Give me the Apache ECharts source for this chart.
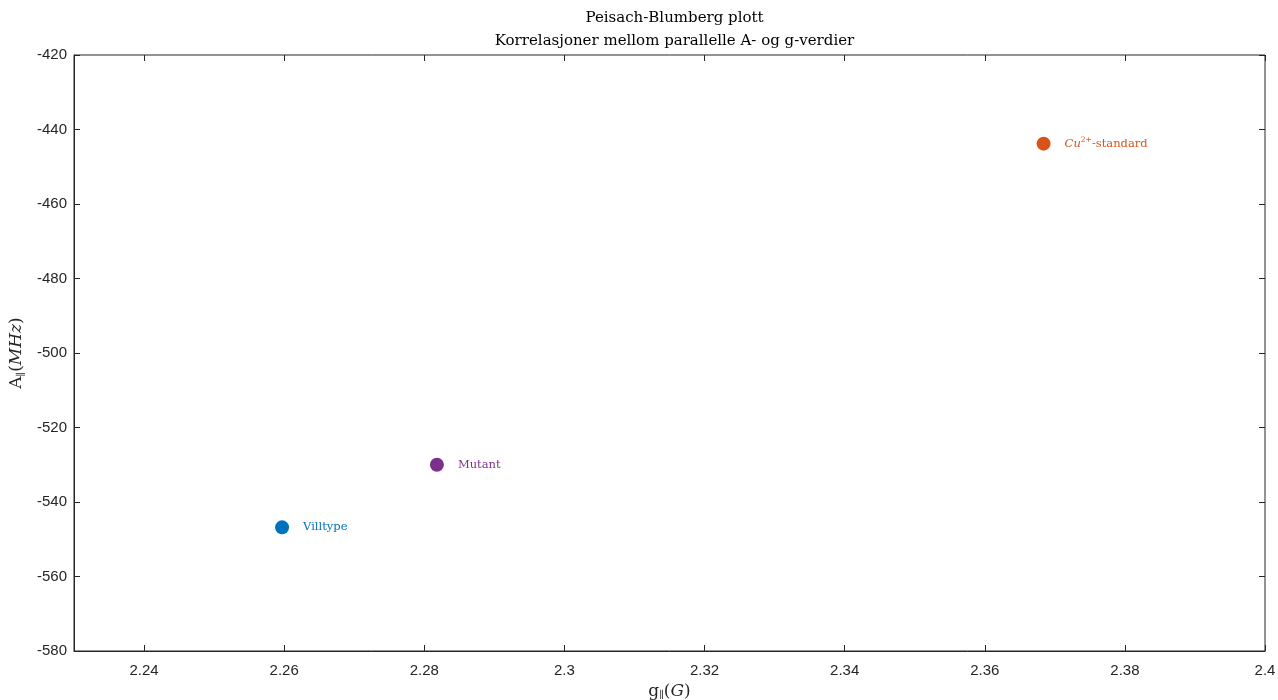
<!DOCTYPE html>
<html>
<head>
<meta charset="utf-8">
<script src="https://cdn.jsdelivr.net/npm/echarts@6/dist/echarts.min.js"></script>
<style>
  html, body { margin: 0; padding: 0; background: #fff; }
  #chart { width: 1278px; height: 700px; }
</style>
</head>
<body>
<div id="chart"></div>
<script>
// Samples: g-parallel and A-parallel (MHz)
const sampleNames = ['Villtype', 'Mutant', 'Cu-standard'];
const gValues = [2.2597, 2.2818, 2.3684];
const aValues = [-546.8, -530.0, -443.8];
const sampleColors = ['#0072BD', '#7E2F8E', '#D95319'];

const xTicks = [2.24, 2.26, 2.28, 2.3, 2.32, 2.34, 2.36, 2.38, 2.4];
const yTicks = [-580, -560, -540, -520, -500, -480, -460, -440, -420];

const serif = '"DejaVu Serif", "Liberation Serif", serif';
const sans = '"Liberation Sans", Arial, sans-serif';
const axisColor = '#262626';

const gridLeft = 74, gridRight = 13, gridTop = 55, gridBottom = 49;
const chartWidth = 1278;
const plotCenterX = gridLeft + (chartWidth - gridLeft - gridRight) / 2;

const chart = echarts.init(document.getElementById('chart'));

function labelRich(color) {
  return {
    n: { fontFamily: serif, fontSize: 11.5, color: color },
    it: { fontFamily: serif, fontSize: 11.5, fontStyle: 'italic', color: color },
    sup: { fontFamily: serif, fontSize: 7.5, color: color, verticalAlign: 'bottom', padding: [0, 0, 7, 0] }
  };
}

const series = sampleNames.map((name, i) => {
  const text = name === 'Cu-standard' ? '{it|Cu}{sup|2+}{n|-standard}' : '{n|' + name + '}';
  return {
    name: name,
    type: 'scatter',
    symbol: 'circle',
    symbolSize: 14,
    data: [[gValues[i], aValues[i]]],
    itemStyle: { color: sampleColors[i], opacity: 1 },
    label: {
      show: true,
      position: 'right',
      distance: 14,
      formatter: text,
      rich: labelRich(sampleColors[i])
    },
    emphasis: { disabled: true },
    z: 5
  };
});

const commonTick = { show: true, inside: true, length: 6, lineStyle: { color: axisColor, width: 1 } };

const nameRich = {
  m: { fontFamily: serif, fontSize: 17, color: '#262626' },
  sub: { fontFamily: serif, fontSize: 10, color: '#262626', verticalAlign: 'top', padding: [9, 0, 0, 0] },
  it: { fontFamily: serif, fontSize: 17, fontStyle: 'italic', color: '#262626' }
};

chart.setOption({
  animation: false,
  backgroundColor: '#fff',
  title: {
    text: 'Peisach-Blumberg plott\nKorrelasjoner mellom parallelle A- og g-verdier',
    left: plotCenterX,
    textAlign: 'center',
    top: 2,
    textStyle: { fontFamily: serif, fontSize: 15, fontWeight: 'normal', color: '#000', lineHeight: 23 }
  },
  grid: {
    left: gridLeft, right: gridRight, top: gridTop, bottom: gridBottom,
    outerBoundsMode: 'none',
    containLabel: false,
    show: true, borderColor: axisColor, borderWidth: 1, backgroundColor: 'transparent'
  },
  xAxis: [{
    type: 'value',
    min: 2.23, max: 2.4,
    name: '{m|g}{sub|∥}{m|(}{it|G}{m|)}',
    nameLocation: 'middle',
    nameGap: 27,
    nameTextStyle: { rich: nameRich },
    axisLine: { show: true, lineStyle: { color: axisColor } },
    axisTick: Object.assign({ customValues: xTicks }, commonTick),
    axisLabel: {
      customValues: xTicks,
      color: axisColor, fontFamily: sans, fontSize: 15, margin: 12,
      formatter: v => String(parseFloat(v.toFixed(2)))
    },
    splitLine: { show: false }
  }, {
    type: 'value',
    position: 'top',
    min: 2.23, max: 2.4,
    axisLine: { show: false },
    axisTick: Object.assign({ customValues: xTicks }, commonTick),
    axisLabel: { show: false },
    splitLine: { show: false }
  }],
  yAxis: [{
    type: 'value',
    min: -580, max: -420, interval: 20,
    name: '{m|A}{sub|∥}{m|(}{it|MHz}{m|)}',
    nameLocation: 'middle',
    nameRotate: 90,
    nameGap: 43,
    nameTextStyle: { rich: nameRich },
    axisLine: { show: true, lineStyle: { color: axisColor } },
    axisTick: commonTick,
    axisLabel: { color: axisColor, fontFamily: sans, fontSize: 15, margin: 7 },
    splitLine: { show: false }
  }, {
    type: 'value',
    position: 'right',
    min: -580, max: -420, interval: 20,
    axisLine: { show: false },
    axisTick: commonTick,
    axisLabel: { show: false },
    splitLine: { show: false }
  }],
  series: series
});
</script>
</body>
</html>
